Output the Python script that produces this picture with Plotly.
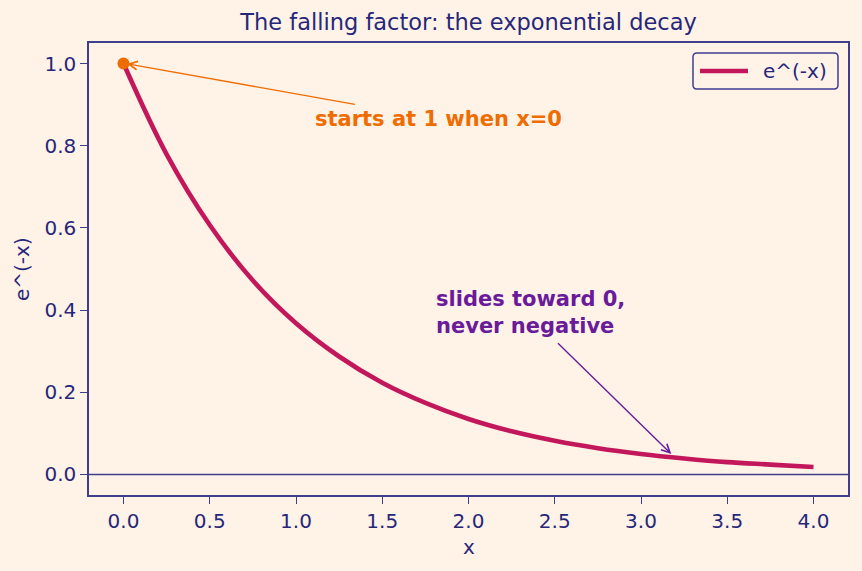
import plotly.graph_objects as go

x_vals = [0.0, 0.25, 0.5, 0.75, 1.0, 1.25, 1.5, 1.75, 2.0, 2.25, 2.5, 2.75, 3.0, 3.25, 3.5, 3.75, 4.0]
y_vals = [1.0, 0.779, 0.607, 0.472, 0.368, 0.287, 0.223, 0.174, 0.135, 0.105, 0.082, 0.064, 0.050, 0.039, 0.030, 0.024, 0.018]
start_x = [0.0]
start_y = [1.0]
x_ticks = [0.0, 0.5, 1.0, 1.5, 2.0, 2.5, 3.0, 3.5, 4.0]
y_ticks = [0.0, 0.2, 0.4, 0.6, 0.8, 1.0]
series_name = "e^(-x)"

BG = "#FFF3E8"
NAVY = "#27277A"
FRAME = "#3E3E8E"
CRIMSON = "#C2185B"
ORANGE = "#EF6C00"
PURPLE = "#6A1B9A"
FONT = "DejaVu Sans"

# plot area in pixels (for paper-coordinate conversions)
L, R, T, B = 89, 848, 43, 495


def px(xp):
    return (xp - L) / (R - L)


def py(yp):
    return (B - yp) / (B - T)


fig = go.Figure()
fig.add_trace(go.Scatter(x=x_vals, y=y_vals, mode="lines", name=series_name, showlegend=False,
                         line=dict(color=CRIMSON, width=4.6, shape="spline")))
fig.add_trace(go.Scatter(x=start_x, y=start_y, mode="markers", showlegend=False,
                         marker=dict(color=ORANGE, size=12)))

# horizontal line at y=0
fig.add_hline(y=0, line=dict(color=FRAME, width=1.5))

# annotations
fig.add_annotation(x=0.015, y=1.0, ax=1.35, ay=0.90, xref="x", yref="y", axref="x", ayref="y",
                   text="", showarrow=True, arrowhead=5, arrowsize=1.2, arrowwidth=1.4,
                   arrowcolor=ORANGE, standoff=1)
fig.add_annotation(x=1.10, y=0.864, xref="x", yref="y", text="<b>starts at 1 when x=0</b>",
                   showarrow=False, xanchor="left", yanchor="middle",
                   font=dict(family=FONT, size=21, color=ORANGE))
fig.add_annotation(x=3.18, y=0.048, ax=2.51, ay=0.323, xref="x", yref="y", axref="x", ayref="y",
                   text="", showarrow=True, arrowhead=5, arrowsize=1.2, arrowwidth=1.4,
                   arrowcolor=PURPLE, standoff=1)
fig.add_annotation(x=1.80, y=0.393, xref="x", yref="y", text="<b>slides toward 0,<br>never negative</b>",
                   showarrow=False, xanchor="left", yanchor="middle", align="left",
                   font=dict(family=FONT, size=21, color=PURPLE))

# axis titles
fig.add_annotation(x=0.5, y=py(547), xref="paper", yref="paper", text="x", showarrow=False,
                   xanchor="center", yanchor="middle", font=dict(family=FONT, size=20, color=NAVY))
fig.add_annotation(x=px(22), y=0.5, xref="paper", yref="paper", text="e^(-x)", showarrow=False,
                   textangle=-90, xanchor="center", yanchor="middle",
                   font=dict(family=FONT, size=20, color=NAVY))

# legend (drawn manually to match rounded box and long line sample)
x0, x1, y0, y1 = 693, 838, 53, 89
r = 4
path = (f"M {px(x0 + r)},{py(y0)} L {px(x1 - r)},{py(y0)} "
        f"Q {px(x1)},{py(y0)} {px(x1)},{py(y0 + r)} L {px(x1)},{py(y1 - r)} "
        f"Q {px(x1)},{py(y1)} {px(x1 - r)},{py(y1)} L {px(x0 + r)},{py(y1)} "
        f"Q {px(x0)},{py(y1)} {px(x0)},{py(y1 - r)} L {px(x0)},{py(y0 + r)} "
        f"Q {px(x0)},{py(y0)} {px(x0 + r)},{py(y0)} Z")
fig.add_shape(type="path", path=path, xref="paper", yref="paper",
              line=dict(color=FRAME, width=1.5), fillcolor=BG, layer="above")
fig.add_shape(type="line", x0=px(700), x1=px(748), y0=py(71), y1=py(71), xref="paper", yref="paper",
              line=dict(color=CRIMSON, width=4.6), layer="above")
fig.add_annotation(x=px(761), y=py(71), xref="paper", yref="paper", text=series_name, showarrow=False,
                   xanchor="left", yanchor="middle", font=dict(family=FONT, size=20, color=NAVY))

axis_common = dict(showgrid=False, zeroline=False, showline=True, mirror=True,
                   linecolor=FRAME, linewidth=1.5, ticks="outside", ticklen=7,
                   tickwidth=1.3, tickcolor=FRAME,
                   tickfont=dict(family=FONT, size=20, color=NAVY))

fig.update_xaxes(range=[-0.2, 4.2], tickvals=x_ticks, ticktext=[f"{v:.1f}" for v in x_ticks], **axis_common)
fig.update_yaxes(range=[-0.05, 1.05], tickvals=y_ticks, ticktext=[f"{v:.1f}" for v in y_ticks], **axis_common)

fig.update_layout(
    width=862, height=571,
    margin=dict(l=L, r=862 - R, t=T, b=571 - B),
    paper_bgcolor=BG, plot_bgcolor=BG,
    title=dict(text="The falling factor: the exponential decay", x=(L + R) / 2 / 862, xanchor="center",
               y=1 - 22 / 571, yanchor="middle", yref="container",
               font=dict(family=FONT, size=22.5, color=NAVY)),
    showlegend=False,
)

fig.write_html("out.html")
